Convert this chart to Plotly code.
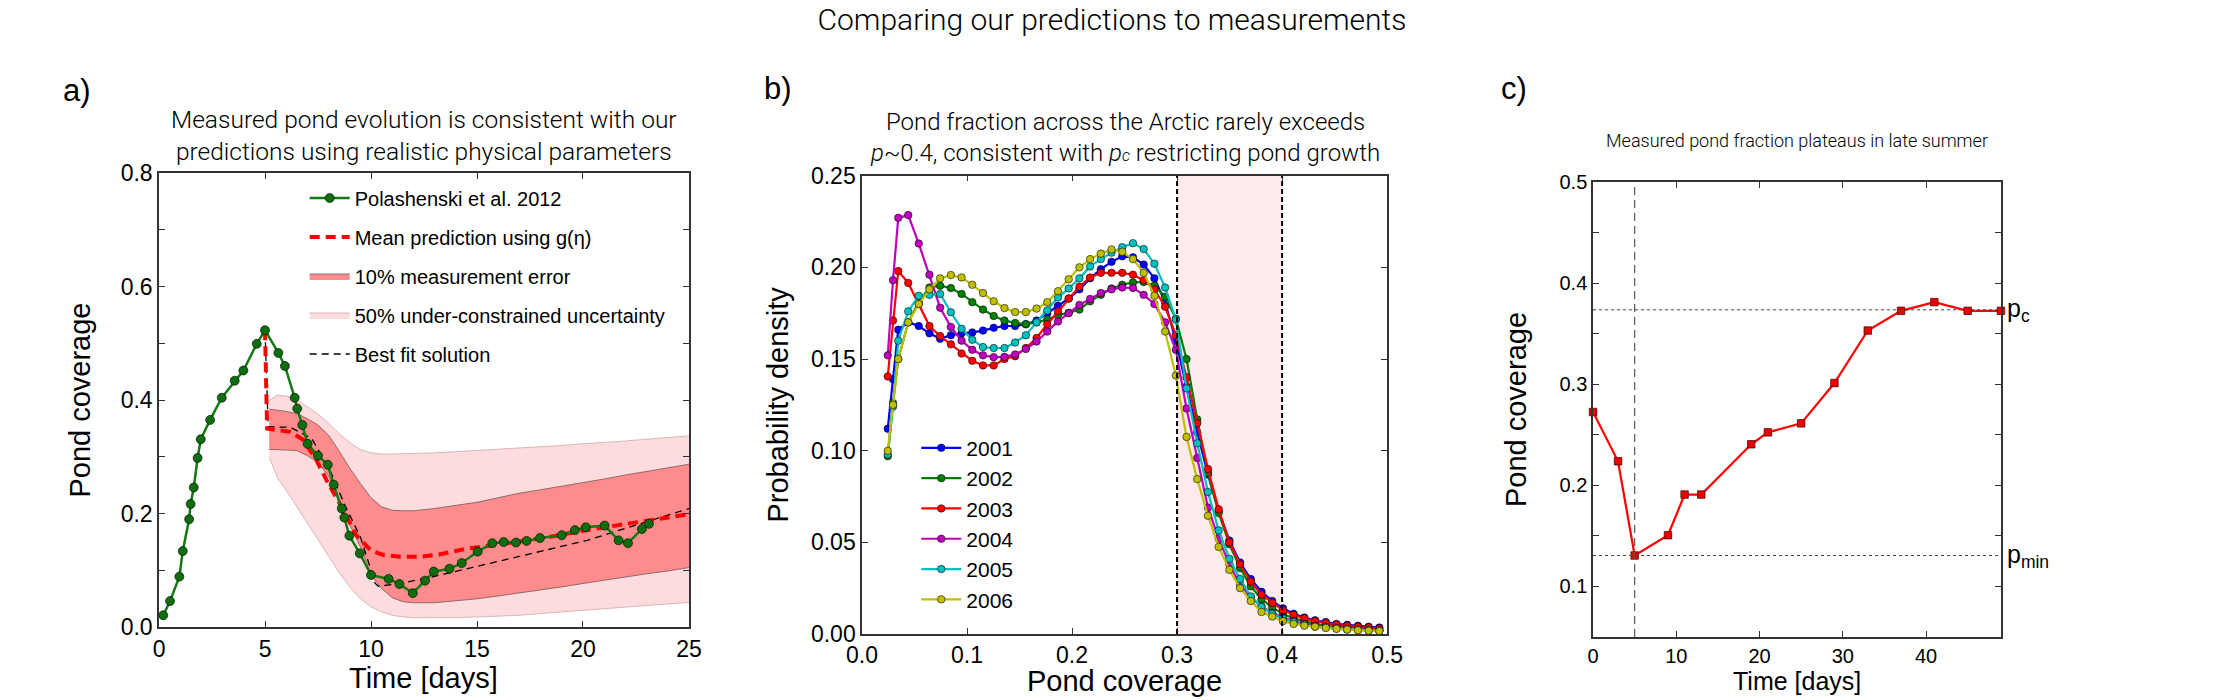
import plotly.graph_objects as go

# ---------------- panel a: field measurements vs model ----------------
obs_t = [0.2, 0.52, 0.96, 1.12, 1.42, 1.49, 1.64, 1.82, 1.97, 2.41,
         2.96, 3.57, 3.98, 4.61, 5.0, 5.63, 5.94, 6.40, 6.52, 6.76,
         7.01, 7.50, 7.96, 8.24, 8.62, 8.74, 8.98, 9.47, 10.0, 10.83,
         11.34, 11.97, 12.55, 12.96, 13.7, 14.28, 15.03, 15.72, 16.26, 16.84,
         17.34, 17.97, 19.0, 19.62, 20.13, 21.02, 21.68, 22.12, 22.78, 23.11]
obs_p = [0.021, 0.046, 0.089, 0.134, 0.190, 0.217, 0.246, 0.298, 0.331, 0.365,
         0.404, 0.434, 0.452, 0.499, 0.523, 0.483, 0.460, 0.404, 0.385, 0.356,
         0.323, 0.302, 0.286, 0.251, 0.209, 0.193, 0.161, 0.130, 0.092, 0.085,
         0.076, 0.060, 0.082, 0.098, 0.103, 0.113, 0.133, 0.148, 0.150, 0.149,
         0.152, 0.157, 0.162, 0.171, 0.176, 0.179, 0.153, 0.148, 0.173, 0.182]

band_t = [5.2, 5.6, 6.0, 6.5, 7.0, 7.5, 8.0, 8.5, 9.0, 9.5, 10.0, 10.5, 11.0, 11.5,
          12.0, 13.0, 14.0, 15.0, 16.0, 17.0, 18.0, 19.0, 20.0, 21.0, 22.0, 23.0, 24.0, 25.0]
err10_hi = [0.384, 0.382, 0.380, 0.376, 0.367, 0.356, 0.338, 0.310, 0.280, 0.253, 0.228, 0.212, 0.206, 0.205,
            0.205, 0.209, 0.214, 0.220, 0.228, 0.236, 0.242, 0.248, 0.255, 0.261, 0.268, 0.274, 0.281, 0.287]
err10_lo = [0.313, 0.313, 0.312, 0.311, 0.302, 0.290, 0.266, 0.225, 0.180, 0.1415, 0.093, 0.068, 0.052, 0.045,
            0.043, 0.043, 0.046, 0.050, 0.055, 0.060, 0.066, 0.071, 0.077, 0.083, 0.088, 0.094, 0.099, 0.105]
unc50_hi = [0.400, 0.409, 0.407, 0.401, 0.388, 0.375, 0.359, 0.341, 0.325, 0.313, 0.307, 0.305, 0.305, 0.305,
            0.306, 0.307, 0.309, 0.311, 0.313, 0.315, 0.318, 0.320, 0.323, 0.325, 0.328, 0.331, 0.334, 0.337]
unc50_lo = [0.299, 0.262, 0.241, 0.212, 0.183, 0.153, 0.124, 0.096, 0.071, 0.050, 0.036, 0.027, 0.021, 0.018,
            0.0165, 0.0165, 0.017, 0.018, 0.019, 0.021, 0.024, 0.027, 0.030, 0.033, 0.036, 0.039, 0.041, 0.0435]

mean_t = [5.0, 5.1, 5.6, 6.2, 6.8, 7.4, 8.0, 8.7, 9.3, 10.0, 10.6, 11.4, 12.3, 13.2, 14.5,
          16.0, 18.0, 20.0, 22.0, 23.5, 25.0]
mean_p = [0.523, 0.350, 0.347, 0.344, 0.330, 0.296, 0.252, 0.206, 0.162, 0.135, 0.127, 0.124, 0.124, 0.128, 0.138,
          0.145, 0.156, 0.170, 0.182, 0.191, 0.199]

fit_t = [5.0, 5.15, 6.2, 7.2, 8.06, 8.8, 9.5, 10.2, 10.35, 11.35, 12.9, 17.0, 20.2, 25.0]
fit_p = [0.523, 0.353, 0.352, 0.3325, 0.277, 0.212, 0.159, 0.077, 0.072, 0.077, 0.0886, 0.124, 0.153, 0.209]

# ---------------- panel b: Arctic pond fraction distributions ----------------
pond_bins = [0.0245, 0.0295, 0.0345, 0.0440, 0.0540, 0.0642, 0.0744, 0.0846, 0.0948, 0.1050,
             0.1152, 0.1254, 0.1356, 0.1458, 0.1560, 0.1662, 0.1764, 0.1866, 0.1968, 0.2070,
             0.2172, 0.2274, 0.2376, 0.2478, 0.2580, 0.2682, 0.2784, 0.2886, 0.2988, 0.3090,
             0.3192, 0.3294, 0.3396, 0.3498, 0.3600, 0.3702, 0.3804, 0.3906, 0.4008, 0.4110,
             0.4212, 0.4314, 0.4416, 0.4518, 0.4620, 0.4722, 0.4824, 0.4926]
years = ["2001", "2002", "2003", "2004", "2005", "2006"]
dens_2001 = [0.112, 0.139, 0.166, 0.170, 0.168, 0.164, 0.161, 0.163, 0.164, 0.1645,
             0.1655, 0.167, 0.168, 0.168, 0.169, 0.171, 0.175, 0.179, 0.183, 0.188,
             0.194, 0.199, 0.203, 0.206, 0.2055, 0.2015, 0.194, 0.181, 0.160, 0.135,
             0.110, 0.087, 0.067, 0.051, 0.039, 0.030, 0.023, 0.018, 0.014, 0.011,
             0.009, 0.0075, 0.0065, 0.0055, 0.005, 0.0045, 0.004, 0.0035]
dens_2002 = [0.097, 0.126, 0.150, 0.170, 0.181, 0.189, 0.190, 0.1887, 0.1855, 0.181,
             0.177, 0.1735, 0.171, 0.1697, 0.169, 0.170, 0.1715, 0.174, 0.1752, 0.177,
             0.1815, 0.185, 0.1885, 0.1905, 0.1918, 0.192, 0.190, 0.184, 0.172, 0.150,
             0.117, 0.088, 0.066, 0.049, 0.036, 0.026, 0.019, 0.0145, 0.011, 0.0085,
             0.007, 0.0055, 0.0045, 0.004, 0.0035, 0.003, 0.0025, 0.002]
dens_2003 = [0.1405, 0.171, 0.198, 0.1915, 0.180, 0.168, 0.1625, 0.158, 0.153, 0.149,
             0.1465, 0.1465, 0.150, 0.1515, 0.156, 0.1615, 0.169, 0.176, 0.183, 0.1895,
             0.1945, 0.197, 0.197, 0.197, 0.196, 0.193, 0.188, 0.1785, 0.163, 0.140,
             0.115, 0.090, 0.068, 0.050, 0.038, 0.0285, 0.0215, 0.017, 0.013, 0.0105,
             0.0085, 0.007, 0.006, 0.005, 0.0045, 0.004, 0.0035, 0.003]
dens_2004 = [0.152, 0.193, 0.227, 0.2285, 0.213, 0.196, 0.178, 0.1675, 0.160, 0.155,
             0.152, 0.151, 0.1512, 0.1525, 0.1555, 0.1595, 0.165, 0.1705, 0.175, 0.1795,
             0.1828, 0.186, 0.188, 0.189, 0.1888, 0.185, 0.180, 0.170, 0.155, 0.123,
             0.096, 0.069, 0.052, 0.038, 0.027, 0.020, 0.015, 0.0115, 0.009, 0.007,
             0.0055, 0.0045, 0.0038, 0.0032, 0.0028, 0.0024, 0.002, 0.0018]
dens_2005 = [0.098, 0.124, 0.160, 0.176, 0.1845, 0.185, 0.1855, 0.1755, 0.1665, 0.1605,
             0.1565, 0.156, 0.156, 0.159, 0.163, 0.170, 0.1765, 0.1835, 0.1885, 0.194,
             0.2005, 0.2045, 0.208, 0.211, 0.2132, 0.210, 0.202, 0.189, 0.1715, 0.134,
             0.104, 0.0775, 0.0565, 0.041, 0.030, 0.0205, 0.0148, 0.011, 0.0085, 0.0065,
             0.005, 0.004, 0.0035, 0.003, 0.0025, 0.0022, 0.002, 0.0018]
dens_2006 = [0.0999, 0.125, 0.150, 0.170, 0.180, 0.188, 0.194, 0.1958, 0.1945, 0.1905,
             0.186, 0.1815, 0.1778, 0.1756, 0.1756, 0.1775, 0.181, 0.187, 0.1935, 0.200,
             0.2045, 0.2075, 0.2098, 0.2085, 0.2045, 0.197, 0.1845, 0.165, 0.141, 0.1075,
             0.0845, 0.0645, 0.0475, 0.035, 0.025, 0.018, 0.012, 0.0095, 0.007, 0.0055,
             0.0045, 0.004, 0.0033, 0.0028, 0.0024, 0.002, 0.0018, 0.0016]
year_colors = ["#0000ff", "#007f00", "#ff0000", "#bf00bf", "#00bfbf", "#bfbf00"]
pc_lo, pc_hi = 0.3, 0.4

# ---------------- panel c: late-summer plateau ----------------
late_t = [0, 3, 5, 9, 11, 13, 19, 21, 25, 29, 33, 37, 41, 45, 49]
late_p = [0.2725, 0.2238, 0.1306, 0.1507, 0.1909, 0.1909, 0.2406, 0.2524, 0.2613, 0.3012,
          0.3531, 0.3726, 0.3812, 0.3726, 0.3726]
p_c = 0.3736
p_min = 0.1306
t_min = 5

FONT = "Liberation Sans, Arial, sans-serif"
LIGHT = "Roboto, Liberation Sans, sans-serif"

fig = go.Figure()

# panel a traces
fig.add_trace(go.Scatter(x=band_t, y=unc50_lo, mode="lines", line=dict(color="rgba(205,160,160,0.7)", width=1),
                         showlegend=False, legendgroup="u50", hoverinfo="skip"))
fig.add_trace(go.Scatter(x=band_t, y=unc50_hi, mode="lines", fill="tonexty", fillcolor="#fddcde",
                         line=dict(color="rgba(205,160,160,0.7)", width=1),
                         name="50% under-constrained uncertainty", legendgroup="u50", legendrank=4))
fig.add_trace(go.Scatter(x=band_t, y=err10_lo, mode="lines", line=dict(color="rgba(110,80,80,0.75)", width=1),
                         showlegend=False, legendgroup="e10", hoverinfo="skip"))
fig.add_trace(go.Scatter(x=band_t, y=err10_hi, mode="lines", fill="tonexty", fillcolor="#ff8c8c",
                         line=dict(color="rgba(110,80,80,0.75)", width=1),
                         name="10% measurement error", legendgroup="e10", legendrank=3))
fig.add_trace(go.Scatter(x=fit_t, y=fit_p, mode="lines", line=dict(color="black", width=1.3, dash="7px,5px"),
                         name="Best fit solution", legendgroup="fit", legendrank=5))
fig.add_trace(go.Scatter(x=mean_t, y=mean_p, mode="lines", line=dict(color="#ff0000", width=4, dash="10px,6px"),
                         name="Mean prediction using g(\u03b7)", legendgroup="mean", legendrank=2))
fig.add_trace(go.Scatter(x=obs_t, y=obs_p, mode="lines+markers", line=dict(color="#117a11", width=2.5),
                         marker=dict(size=9, color="#0e6e0e", line=dict(color="rgba(0,0,0,0.6)", width=1)),
                         name="Polashenski et al. 2012", legendgroup="obs", legendrank=1))

# panel b traces
for yr, dens, col in zip(years, [dens_2001, dens_2002, dens_2003, dens_2004, dens_2005, dens_2006], year_colors):
    fig.add_trace(go.Scatter(x=pond_bins, y=dens, mode="lines+markers", name=yr,
                             line=dict(color=col, width=2.2),
                             marker=dict(size=7.5, color=col, line=dict(color="rgba(0,0,0,0.55)", width=1)),
                             xaxis="x2", yaxis="y2", legend="legend2", cliponaxis=False))

# panel c traces
fig.add_trace(go.Scatter(x=late_t, y=late_p, mode="lines+markers", showlegend=False,
                         line=dict(color="#ff0000", width=2.2),
                         marker=dict(symbol="square", size=7.5, color="#ee0000", line=dict(color="rgba(60,0,0,0.7)", width=1)),
                         xaxis="x3", yaxis="y3", cliponaxis=False))

# reference region / lines
fig.add_shape(type="rect", xref="x2", yref="y2 domain", x0=pc_lo, x1=pc_hi, y0=0, y1=1,
              fillcolor="#fdeaec", line_width=0, layer="below")
for xv in (pc_lo, pc_hi):
    fig.add_shape(type="line", xref="x2", yref="y2 domain", x0=xv, x1=xv, y0=0, y1=1,
                  line=dict(color="black", width=2, dash="5px,3px"))
fig.add_shape(type="line", xref="x3", yref="y3 domain", x0=t_min, x1=t_min, y0=0, y1=1,
              line=dict(color="#555", width=1.2, dash="8px,5px"))
for yv in (p_c, p_min):
    fig.add_shape(type="line", xref="x3 domain", yref="y3", x0=0, x1=1, y0=yv, y1=yv,
                  line=dict(color="#444", width=1, dash="dot"))


def ax(**kw):
    base = dict(showline=True, linecolor="#333", linewidth=1.5, mirror="ticks", ticks="inside",
                ticklen=6, tickcolor="#333", showgrid=False, zeroline=False, automargin=False,
                tickfont=dict(family=FONT, size=23, color="black"))
    base.update(kw)
    return base


title_font = dict(family=FONT, size=29, color="black")
c_tick = dict(family=FONT, size=20, color="black")

fig.update_layout(
    template="none",
    width=2224, height=700, autosize=False,
    margin=dict(l=0, r=0, t=0, b=0),
    plot_bgcolor="white", paper_bgcolor="white",
    title=dict(text="Comparing our predictions to measurements", x=0.5, xanchor="center",
               y=0.972, yanchor="middle", font=dict(family=LIGHT, size=30, color="black", weight=300)),
    xaxis=ax(domain=[0.0715, 0.3098], range=[0, 25], dtick=5),
    yaxis=ax(domain=[0.104, 0.753], range=[0, 0.8], dtick=0.2, tickformat=".1f",
             minor=dict(dtick=0.1, ticks="inside", ticklen=6, tickcolor="#333"),
             title=dict(text="Pond coverage", font=title_font, standoff=22)),
    xaxis2=ax(domain=[0.3876, 0.6237], range=[0, 0.5], dtick=0.1, tickformat=".1f", anchor="y2"),
    yaxis2=ax(domain=[0.0943, 0.749], range=[0, 0.25], dtick=0.05, tickformat=".2f", anchor="x2",
              title=dict(text="Probability density", font=title_font, standoff=14)),
    xaxis3=ax(domain=[0.7163, 0.8997], range=[0, 49], dtick=10, anchor="y3", tickfont=c_tick),
    yaxis3=ax(domain=[0.09, 0.740], range=[0.05, 0.5], dtick=0.1, tickformat=".1f", anchor="x3",
              tickfont=c_tick, minor=dict(dtick=0.05, ticks="inside", ticklen=6, tickcolor="#333"),
              title=dict(text="Pond coverage", font=title_font, standoff=24)),
    legend=dict(x=0.137, y=0.745, xanchor="left", yanchor="top", bgcolor="rgba(0,0,0,0)",
                font=dict(family=FONT, size=20, color="black"), tracegroupgap=10, itemwidth=40,
                traceorder="grouped"),
    legend2=dict(x=0.412, y=0.389, xanchor="left", yanchor="top", bgcolor="rgba(0,0,0,0)",
                 font=dict(family=FONT, size=21, color="black"), tracegroupgap=0, itemwidth=40),
)

# panel letters
for txt, xp, yp in [("a)", 0.0346, 0.871), ("b)", 0.3498, 0.874), ("c)", 0.6808, 0.874)]:
    fig.add_annotation(xref="paper", yref="paper", x=xp, y=yp, text=txt, xanchor="center", yanchor="middle",
                       showarrow=False, font=dict(family=FONT, size=31, color="black"))

# x-axis titles
for txt, xp, yp, fnt in [("Time [days]", 0.1906, 0.0314, title_font),
                         ("Pond coverage", 0.5058, 0.027, title_font),
                         ("Time [days]", 0.808, 0.0271, dict(family=FONT, size=25, color="black"))]:
    fig.add_annotation(xref="paper", yref="paper", x=xp, y=yp, text=txt, xanchor="center", yanchor="middle",
                       showarrow=False, font=fnt)

fig.add_annotation(xref="paper", yref="paper", x=0.1906, y=0.807, xanchor="center", yanchor="middle",
                   showarrow=False, font=dict(family=LIGHT, size=24.5, color="black", weight=300),
                   text="Measured pond evolution is consistent with our<br>predictions using realistic physical parameters")
fig.add_annotation(xref="paper", yref="paper", x=0.5058, y=0.804, xanchor="center", yanchor="middle",
                   showarrow=False, font=dict(family=LIGHT, size=24, color="black", weight=300),
                   text="Pond fraction across the Arctic rarely exceeds<br><i>p</i>~0.4, consistent with "
                        "<i>p<span style='font-size:16px'>c</span></i> restricting pond growth")
fig.add_annotation(xref="paper", yref="paper", x=0.808, y=0.7986, xanchor="center", yanchor="middle",
                   showarrow=False, font=dict(family=LIGHT, size=18, color="black", weight=300),
                   text="Measured pond fraction plateaus in late summer")
fig.add_annotation(xref="x3", yref="y3", x=49, y=p_c, xanchor="left", yanchor="middle", xshift=4,
                   showarrow=False, font=dict(family=FONT, size=25, color="black"), text="p<sub>c</sub>")
fig.add_annotation(xref="x3", yref="y3", x=49, y=p_min, xanchor="left", yanchor="middle", xshift=4,
                   showarrow=False, font=dict(family=FONT, size=25, color="black"), text="p<sub>min</sub>")

# drop the browser's default body margin so the figure sits at the page origin
fig.write_html("out.html", config={"displayModeBar": False},
               post_script="document.body.style.margin='0';")
